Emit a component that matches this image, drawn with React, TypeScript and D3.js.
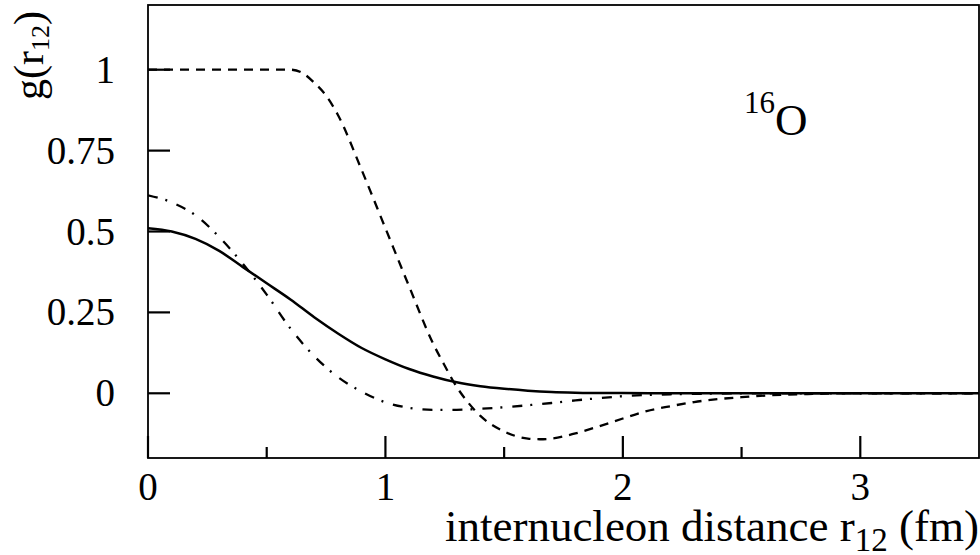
// g(r12) correlation functions for 16O, redrawn with D3 scales
import React from 'react';
import * as d3 from 'd3';

const xTicks = [0, 1, 2, 3];
const xMinorTicks = [0.5, 1.5, 2.5];
const yTicks = [0, 0.25, 0.5, 0.75, 1];
const yTickLabels = ['0', '0.25', '0.5', '0.75', '1'];

// solid curve
const solidX = [0, 0.1, 0.2, 0.3, 0.4, 0.5, 0.6, 0.7, 0.8, 0.9, 1.0, 1.1, 1.2, 1.3, 1.4, 1.5, 1.6, 1.7, 1.8, 2.0, 2.2, 2.6, 3.0, 3.5];
const solidY = [0.51, 0.5, 0.477, 0.44, 0.39, 0.34, 0.29, 0.235, 0.185, 0.14, 0.105, 0.075, 0.052, 0.034, 0.022, 0.014, 0.008, 0.004, 0.002, 0.0005, 0, 0, 0, 0];

// dashed curve
const dashedX = [0, 0.3, 0.6, 0.65, 0.7, 0.75, 0.8, 0.9, 1.0, 1.1, 1.2, 1.25, 1.3, 1.35, 1.4, 1.5, 1.6, 1.65, 1.7, 1.8, 1.9, 2.0, 2.1, 2.2, 2.3, 2.4, 2.5, 2.6, 2.8, 3.0, 3.5];
const dashedY = [1, 1, 1, 0.99, 0.96, 0.92, 0.86, 0.69, 0.51, 0.33, 0.155, 0.085, 0.02, -0.03, -0.07, -0.118, -0.14, -0.142, -0.14, -0.124, -0.102, -0.078, -0.055, -0.04, -0.027, -0.018, -0.012, -0.007, -0.002, 0, 0];

// dash-dot curve
const dashDotX = [0, 0.1, 0.2, 0.3, 0.4, 0.5, 0.6, 0.7, 0.8, 0.9, 1.0, 1.1, 1.2, 1.3, 1.4, 1.5, 1.6, 1.7, 1.8, 1.9, 2.0, 2.2, 2.4, 2.6, 3.0, 3.5];
const dashDotY = [0.612, 0.59, 0.55, 0.483, 0.4, 0.305, 0.2, 0.115, 0.05, 0.005, -0.028, -0.045, -0.051, -0.051, -0.048, -0.043, -0.037, -0.03, -0.022, -0.015, -0.009, -0.003, -0.001, 0, 0, 0];

const W = 980;
const H = 555;
const left = 148;
const right = 979;
const top = 5;
const bottom = 458;
const font = '"Liberation Serif", "Times New Roman", serif';

const App: React.FC = () => {
  const x = d3.scaleLinear().domain([0, 3.5]).range([left, right]);
  const y = d3.scaleLinear().domain([-0.2, 1.2]).range([bottom, top]);

  const line = d3.line<[number, number]>()
    .x(d => x(d[0]))
    .y(d => y(d[1]))
    .curve(d3.curveMonotoneX);

  const zip = (xs: number[], ys: number[]) => xs.map((v, i) => [v, ys[i]] as [number, number]);

  return (
    <svg width={W} height={H} style={{ position: 'absolute', left: 0, top: 0, background: '#fff' }}
      fontFamily={font}>
      <defs>
        <clipPath id="plot">
          <rect x={left} y={top} width={right - left} height={bottom - top} />
        </clipPath>
      </defs>

      <g clipPath="url(#plot)" fill="none" stroke="#000">
        <path d={line(zip(solidX, solidY)) || ''} strokeWidth={2.5} />
        <path d={line(zip(dashedX, dashedY)) || ''} strokeWidth={2.3} strokeDasharray="9,7" />
        <path d={line(zip(dashDotX, dashDotY)) || ''} strokeWidth={2.3} strokeDasharray="10,8,2,10" />
      </g>

      {/* frame */}
      <rect x={left} y={top} width={right - left} height={bottom - top} fill="none" stroke="#000" strokeWidth={1.8} />

      {/* y ticks */}
      {yTicks.map((t, i) => (
        <g key={'y' + t}>
          <line x1={left} x2={left + 22} y1={y(t)} y2={y(t)} stroke="#000" strokeWidth={2.2} />
          <text x={115} y={y(t) + 13} textAnchor="end" fontSize={39}>{yTickLabels[i]}</text>
        </g>
      ))}

      {/* x ticks */}
      {xTicks.map(t => (
        <g key={'x' + t}>
          <line x1={x(t)} x2={x(t)} y1={bottom} y2={bottom - 22} stroke="#000" strokeWidth={2.2} />
          <text x={x(t)} y={500} textAnchor="middle" fontSize={39}>{t}</text>
        </g>
      ))}
      {xMinorTicks.map(t => (
        <line key={'m' + t} x1={x(t)} x2={x(t)} y1={bottom} y2={bottom - 11} stroke="#000" strokeWidth={2.2} />
      ))}

      {/* x axis label */}
      <text x={979} y={541} textAnchor="end" fontSize={45}>
        internucleon distance r
        <tspan fontSize={33} dy={10}>12</tspan>
        <tspan dy={-10}> (fm)</tspan>
      </text>

      {/* y axis label */}
      <text transform="translate(43,100) rotate(-90)" fontSize={42}>
        g(r
        <tspan fontSize={26} dy={6}>12</tspan>
        <tspan dy={-6}>)</tspan>
      </text>

      {/* nucleus label */}
      <text x={744} y={135} fontSize={45}>
        <tspan fontSize={31} dy={-22}>16</tspan>
        <tspan dy={22}>O</tspan>
      </text>
    </svg>
  );
};

export default App;
